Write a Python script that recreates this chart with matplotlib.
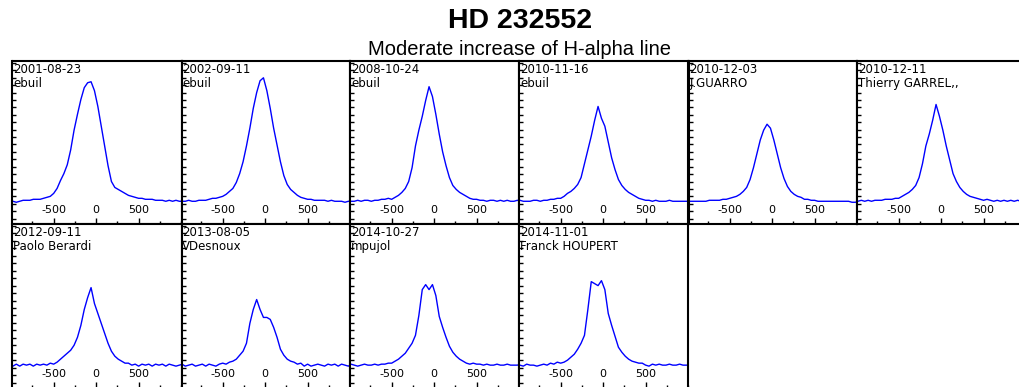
import matplotlib
matplotlib.use("Agg")
import matplotlib.pyplot as plt
from matplotlib.ticker import MultipleLocator

# ========================
# Data: H-alpha profiles of HD 232552 (normalised flux vs velocity, km/s)
# ========================
velocity = [-1020, -980, -940, -900, -860, -820, -780, -740, -700, -660, -620, -580, -540,
            -500, -460, -420, -380, -340, -300, -260, -220, -180, -140, -100, -60, -20,
            20, 60, 100, 140, 180, 220, 260, 300, 340, 380, 420, 460, 500,
            540, 580, 620, 660, 700, 740, 780, 820, 860, 900, 940, 980, 1020]

dates = ['2001-08-23', '2002-09-11', '2008-10-24', '2010-11-16', '2010-12-03',
         '2010-12-11', '2012-09-11', '2013-08-05', '2014-10-27', '2014-11-01']
observers = ['ebuil', 'ebuil', 'ebuil', 'ebuil', 'J.GUARRO',
             'Thierry GARREL,,', 'Paolo Berardi', 'VDesnoux', 'mpujol', 'Franck HOUPERT']

flux_2001_08_23 = [1.00, 1.00, 0.99, 1.00, 1.01, 1.01, 1.01, 1.02, 1.02, 1.02, 1.03, 1.04, 1.05,
                   1.08, 1.13, 1.21, 1.28, 1.37, 1.52, 1.72, 1.88, 2.03, 2.15, 2.20, 2.21, 2.12,
                   1.96, 1.76, 1.56, 1.36, 1.20, 1.14, 1.12, 1.10, 1.08, 1.06, 1.05, 1.04, 1.03,
                   1.03, 1.02, 1.02, 1.02, 1.01, 1.01, 1.01, 1.00, 1.01, 1.00, 1.01, 1.00, 1.00]
flux_2002_09_11 = [1.00, 1.00, 1.00, 1.01, 1.00, 1.00, 1.01, 1.01, 1.01, 1.02, 1.03, 1.03, 1.04,
                   1.05, 1.07, 1.10, 1.13, 1.19, 1.28, 1.40, 1.56, 1.74, 1.94, 2.10, 2.22, 2.25,
                   2.12, 1.94, 1.74, 1.57, 1.40, 1.26, 1.17, 1.12, 1.09, 1.06, 1.04, 1.03, 1.02,
                   1.02, 1.01, 1.01, 1.01, 1.01, 1.00, 1.01, 1.00, 1.00, 1.00, 0.99, 1.00, 1.00]
flux_2008_10_24 = [1.00, 1.00, 1.00, 1.01, 1.00, 1.01, 1.01, 1.00, 1.01, 1.01, 1.02, 1.02, 1.03,
                   1.02, 1.04, 1.06, 1.09, 1.13, 1.20, 1.34, 1.56, 1.72, 1.86, 2.02, 2.16, 2.06,
                   1.88, 1.68, 1.50, 1.36, 1.24, 1.16, 1.12, 1.09, 1.07, 1.05, 1.03, 1.02, 1.02,
                   1.01, 1.01, 1.00, 1.01, 1.01, 1.00, 1.01, 1.00, 1.01, 1.00, 1.00, 1.01, 1.00]
flux_2010_11_16 = [1.00, 1.01, 1.00, 1.00, 1.00, 1.01, 1.01, 1.00, 1.01, 1.01, 1.02, 1.02, 1.03,
                   1.03, 1.05, 1.08, 1.10, 1.13, 1.17, 1.24, 1.38, 1.52, 1.66, 1.82, 1.96, 1.84,
                   1.76, 1.60, 1.44, 1.32, 1.22, 1.16, 1.12, 1.09, 1.07, 1.05, 1.03, 1.02, 1.01,
                   1.01, 1.00, 1.01, 1.00, 1.00, 1.00, 1.01, 1.00, 1.00, 1.00, 1.00, 1.00, 1.00]
flux_2010_12_03 = [1.00, 1.00, 1.00, 1.00, 1.00, 1.00, 1.00, 1.01, 1.01, 1.01, 1.01, 1.02, 1.02,
                   1.03, 1.04, 1.05, 1.07, 1.10, 1.14, 1.22, 1.34, 1.48, 1.62, 1.72, 1.78, 1.74,
                   1.62, 1.48, 1.34, 1.23, 1.15, 1.10, 1.07, 1.05, 1.04, 1.02, 1.02, 1.01, 1.01,
                   1.00, 1.00, 1.00, 1.00, 1.00, 1.00, 1.00, 1.00, 1.00, 1.00, 0.99, 0.99, 1.00]
flux_2010_12_11 = [1.00, 1.00, 1.01, 1.00, 1.01, 1.00, 1.01, 1.01, 1.01, 1.02, 1.02, 1.02, 1.03,
                   1.03, 1.05, 1.07, 1.09, 1.12, 1.16, 1.24, 1.38, 1.56, 1.68, 1.82, 1.98, 1.86,
                   1.72, 1.56, 1.42, 1.28, 1.20, 1.14, 1.10, 1.07, 1.05, 1.04, 1.03, 1.02, 1.01,
                   1.02, 1.01, 1.00, 1.01, 1.00, 1.01, 1.00, 1.01, 1.00, 1.01, 1.00, 1.00, 1.00]
flux_2012_09_11 = [1.00, 0.99, 1.01, 0.99, 1.01, 1.00, 1.01, 0.99, 1.01, 1.00, 1.01, 1.00, 1.02,
                   1.01, 1.03, 1.06, 1.09, 1.12, 1.15, 1.20, 1.28, 1.40, 1.56, 1.68, 1.78, 1.62,
                   1.52, 1.42, 1.32, 1.22, 1.14, 1.09, 1.06, 1.04, 1.02, 1.02, 1.00, 1.01, 0.99,
                   1.01, 1.00, 1.01, 0.99, 1.01, 1.00, 1.01, 0.99, 1.01, 1.00, 0.99, 1.00, 1.01]
flux_2013_08_05 = [1.00, 1.01, 0.99, 1.00, 1.01, 0.99, 1.00, 1.01, 0.99, 1.01, 1.00, 0.99, 1.01,
                   1.02, 1.01, 1.03, 1.04, 1.06, 1.10, 1.14, 1.22, 1.42, 1.56, 1.66, 1.56, 1.48,
                   1.48, 1.46, 1.38, 1.28, 1.16, 1.10, 1.06, 1.04, 1.03, 1.01, 1.02, 0.99, 1.01,
                   0.99, 1.00, 1.01, 1.00, 0.99, 1.01, 1.00, 1.01, 0.99, 1.01, 1.00, 0.99, 1.01]
flux_2014_10_27 = [1.00, 1.01, 1.00, 0.99, 1.00, 1.01, 1.00, 1.00, 1.01, 1.00, 1.01, 1.01, 1.02,
                   1.02, 1.04, 1.06, 1.09, 1.12, 1.17, 1.22, 1.30, 1.50, 1.76, 1.81, 1.76, 1.81,
                   1.70, 1.49, 1.38, 1.28, 1.19, 1.13, 1.09, 1.06, 1.04, 1.02, 1.01, 1.02, 1.01,
                   1.01, 1.00, 1.01, 1.00, 1.00, 1.01, 1.00, 1.00, 1.01, 1.00, 1.00, 1.00, 1.01]
flux_2014_11_01 = [1.00, 1.00, 0.99, 1.01, 1.00, 1.00, 0.99, 1.00, 1.01, 1.00, 1.02, 1.01, 1.03,
                   1.02, 1.03, 1.05, 1.08, 1.11, 1.16, 1.22, 1.30, 1.56, 1.84, 1.82, 1.80, 1.85,
                   1.76, 1.52, 1.40, 1.29, 1.18, 1.13, 1.09, 1.06, 1.04, 1.03, 1.02, 1.02, 1.00,
                   0.99, 1.01, 1.00, 1.01, 1.00, 1.00, 1.01, 1.00, 1.00, 1.01, 1.00, 1.00, 1.00]

spectra = [flux_2001_08_23, flux_2002_09_11, flux_2008_10_24, flux_2010_11_16, flux_2010_12_03,
           flux_2010_12_11, flux_2012_09_11, flux_2013_08_05, flux_2014_10_27, flux_2014_11_01]

# ========================
# Figure
# ========================
W, H = 1020, 387
fig = plt.figure(figsize=(W / 100, H / 100), dpi=100)

fig.text(0.510, 1 - 28 / H, 'HD 232552', ha='center', va='baseline',
         fontsize=20.5, fontweight='bold', family='Liberation Sans')
fig.text(0.509, 1 - 55 / H, 'Moderate increase of H-alpha line', ha='center', va='baseline',
         fontsize=14.5, family='Liberation Sans')

panel_w = 169
rows = [(61, 224), (224, 388)]   # top, bottom in pixels

for i, flux in enumerate(spectra):
    r, c = divmod(i, 6)
    top, bottom = rows[r]
    left = 12.5 + c * panel_w
    ax = fig.add_axes([left / W, 1 - bottom / H, panel_w / W, (bottom - top) / H])

    ax.plot(velocity, flux, color='#0000ff', lw=1.0)
    ax.set_xlim(-985, 1005)
    ax.set_ylim(0.77, 2.42)

    ax.set_xticks([-500, 0, 500])
    ax.set_xticklabels(['-500', '0', '500'], fontsize=8)
    ax.xaxis.set_minor_locator(MultipleLocator(250))
    ax.tick_params(axis='x', which='major', direction='in', length=4, width=1, pad=-13.5)
    ax.tick_params(axis='x', which='minor', direction='in', length=2.5, width=1)
    ax.yaxis.set_major_locator(MultipleLocator(0.075))
    ax.tick_params(axis='y', which='major', direction='in', length=3, width=1, labelleft=False)

    for s in ax.spines.values():
        s.set_linewidth(1.5)
        s.set_color('black')

    ax.text(0.004, 0.985, dates[i], transform=ax.transAxes, ha='left', va='top', fontsize=8.5)
    ax.text(0.004, 0.90, observers[i], transform=ax.transAxes, ha='left', va='top', fontsize=8.5)

fig.savefig('out.png', dpi=100)
